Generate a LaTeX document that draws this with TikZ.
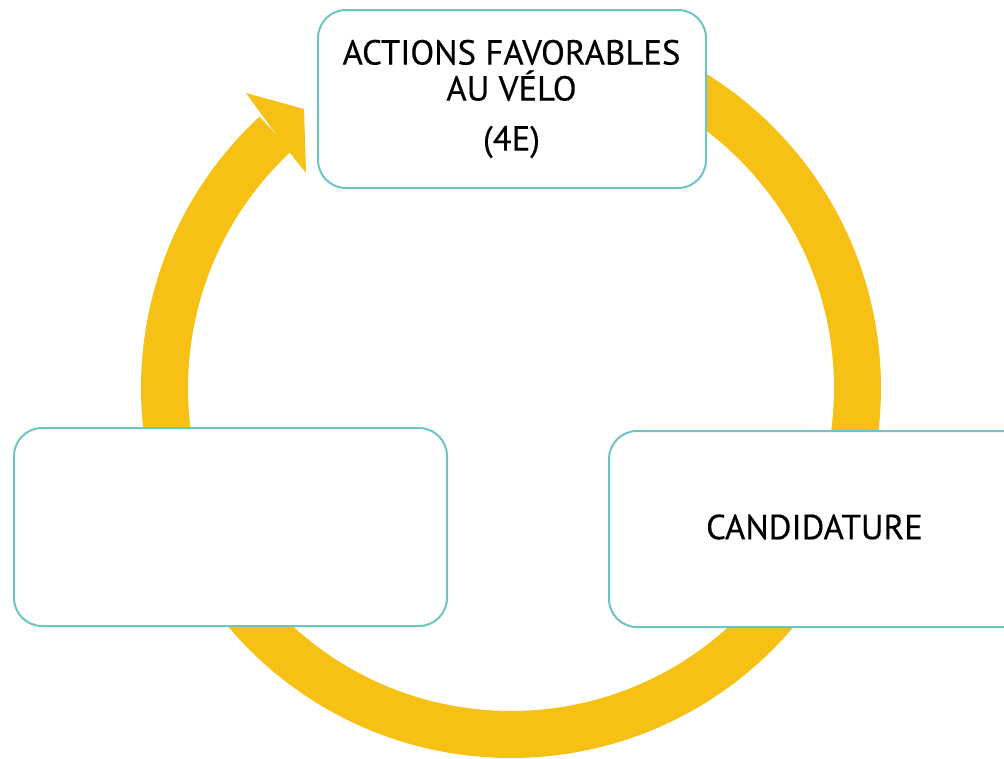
\documentclass[tikz,border=0pt]{standalone}
\usepackage{fontspec}
\setmainfont{PT Sans}
\newfontfamily\lblfont[FakeBold=0.35]{PT Sans}
\definecolor{ringyellow}{HTML}{F6C114}
\definecolor{boxteal}{HTML}{6CC5BE}
\begin{document}
\begin{tikzpicture}[x=1pt,y=-1pt,
  cyclebox/.style={draw=boxteal,line width=2pt,fill=white,rounded corners=28pt},
  lbl/.style={font=\lblfont\fontsize{34.8}{36}\selectfont,text=black,align=center,inner sep=0pt}]
\useasboundingbox (0,0) rectangle (1004,758);
\clip (0,0) rectangle (1004,758);
\coordinate (c) at (511,388);
% ring
\draw[ringyellow,line width=47pt] (c) ++(227.2:346.5) arc[start angle=227.2,end angle=-100,radius=346.5];
% arrowhead
\fill[ringyellow] (262,115) -- (246,93) -- (304,109) -- (306,173) -- (290,153) -- cycle;
% boxes
\draw[cyclebox] (318,10) rectangle (706,188);
\draw[cyclebox] (14,428) rectangle (447,626);
\draw[cyclebox] (609,431) rectangle (1042,627);
\node[lbl] (top) at (511.5,99) {ACTIONS FAVORABLES\\[0pt]AU VÉLO\\[14pt](4E)};
\node[lbl] (cand) at (814.5,527) {CANDIDATURE};
\end{tikzpicture}
\end{document}
